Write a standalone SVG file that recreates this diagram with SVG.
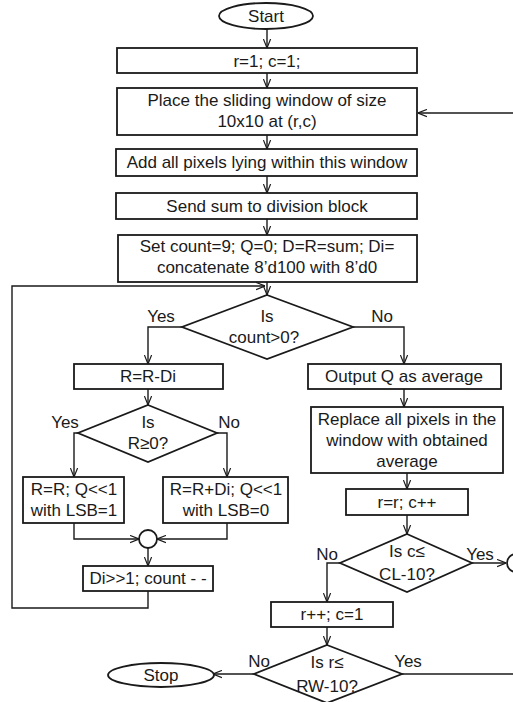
<svg xmlns="http://www.w3.org/2000/svg" width="513" height="702" viewBox="0 0 513 702">
<style>
.b{fill:#fff;stroke:#1a1a1a;stroke-width:1.8}
.c{fill:none;stroke:#1a1a1a;stroke-width:1.4}
.a{marker-end:url(#arr)}
text{font-family:"Liberation Sans",Arial,sans-serif;font-size:17px;fill:#1a1a1a;text-anchor:middle}
</style>
<defs>
<marker id="arr" viewBox="0 0 10 10" refX="10" refY="5" markerWidth="9" markerHeight="9" markerUnits="userSpaceOnUse" orient="auto">
<path d="M0,1 L10,5 L0,9" fill="none" stroke="#1a1a1a" stroke-width="1.3"/>
</marker>
</defs>
<rect width="513" height="702" fill="#fff"/>
<g id="connectors">
<path class="c a" d="M267,29 V48"/>
<path class="c a" d="M267,73 V88"/>
<path class="c a" d="M267,135 V149"/>
<path class="c a" d="M267,176 V193"/>
<path class="c a" d="M267,219 V235"/>
<path class="c a" d="M267,282 V295"/>
<path class="c a" d="M148,591 V608 H12 V286 H265"/>
<path class="c a" d="M182,327 H148 V364"/>
<path class="c a" d="M353,327 H404 V364"/>
<path class="c a" d="M148,389 V405"/>
<path class="c a" d="M78,433 H74 V477"/>
<path class="c a" d="M217,433 H227 V477"/>
<path class="c a" d="M74,523 V539 H139"/>
<path class="c a" d="M227,523 V539 H157"/>
<path class="c a" d="M148,548 V566"/>
<path class="c a" d="M404,389 V407"/>
<path class="c a" d="M407,473 V489"/>
<path class="c a" d="M407,515 V534"/>
<path class="c a" d="M472,563 H506"/>
<path class="c a" d="M340,563 H327 V602"/>
<path class="c a" d="M327,627 V645"/>
<path class="c a" d="M254,674 H213"/>
<path class="c" d="M402,674 H513"/>
<path class="c a" d="M513,113 H418"/>
</g>
<g id="start"><ellipse class="b" cx="266" cy="16" rx="47" ry="13"/><text x="266" y="22">Start</text></g>
<g id="init"><rect class="b" x="117" y="48" width="300" height="25"/><text x="267" y="67">r=1; c=1;</text></g>
<g id="place"><rect class="b" x="117" y="88" width="300" height="47"/><text x="267" y="106">Place the sliding window of size</text><text x="267" y="127">10x10 at (r,c)</text></g>
<g id="add"><rect class="b" x="116" y="149" width="301" height="27"/><text x="267" y="168">Add all pixels lying within this window</text></g>
<g id="send"><rect class="b" x="116" y="193" width="301" height="26"/><text x="267" y="212">Send sum to division block</text></g>
<g id="set"><rect class="b" x="118" y="235" width="299" height="47"/><text x="267" y="252">Set count=9; Q=0; D=R=sum; Di=</text><text x="267" y="273">concatenate 8’d100 with 8’d0</text></g>
<g id="d1"><polygon class="b" points="267,295 353,327 267,359 182,327"/><text x="267" y="322">Is</text><text x="264" y="343">count&gt;0?</text><text x="161" y="322">Yes</text><text x="382" y="322">No</text></g>
<g id="sub"><rect class="b" x="74" y="364" width="149" height="25"/><text x="148" y="382">R=R-Di</text></g>
<g id="d2"><polygon class="b" points="148,405 217,433 148,462 78,433"/><text x="148" y="428">Is</text><text x="148" y="449">R≥0?</text><text x="65" y="428">Yes</text><text x="229" y="428">No</text></g>
<g id="q1"><rect class="b" x="23" y="477" width="101" height="46"/><text x="74" y="495">R=R;  Q&lt;&lt;1</text><text x="74" y="516">with LSB=1</text></g>
<g id="q0"><rect class="b" x="163" y="477" width="125" height="46"/><text x="226" y="495">R=R+Di;  Q&lt;&lt;1</text><text x="226" y="516">with LSB=0</text></g>
<g id="join"><circle class="b" cx="148" cy="539" r="9"/></g>
<g id="shift"><rect class="b" x="83" y="566" width="130" height="25"/><text x="148" y="584">Di&gt;&gt;1; count - -</text></g>
<g id="out"><rect class="b" x="308" y="364" width="193" height="25"/><text x="404" y="382">Output Q as average</text></g>
<g id="replace"><rect class="b" x="311" y="407" width="192" height="66"/><text x="407" y="425">Replace all pixels in the</text><text x="407" y="446">window with obtained</text><text x="407" y="467">average</text></g>
<g id="inc"><rect class="b" x="346" y="489" width="122" height="26"/><text x="407" y="508">r=r; c++</text></g>
<g id="d3"><polygon class="b" points="407,534 472,563 407,592 340,563"/><text x="407" y="557">Is c≤</text><text x="407" y="580">CL-10?</text><text x="327" y="560">No</text><text x="480" y="560">Yes</text></g>
<g id="cont"><circle class="b" cx="516" cy="563" r="9"/></g>
<g id="rinc"><rect class="b" x="271" y="602" width="122" height="25"/><text x="332" y="620">r++; c=1</text></g>
<g id="d4"><polygon class="b" points="327,645 402,674 327,703 254,674"/><text x="327" y="668">Is r≤</text><text x="327" y="692">RW-10?</text><text x="259" y="667">No</text><text x="408" y="667">Yes</text></g>
<g id="stop"><ellipse class="b" cx="161" cy="675" rx="53" ry="12"/><text x="161" y="681">Stop</text></g>
</svg>
